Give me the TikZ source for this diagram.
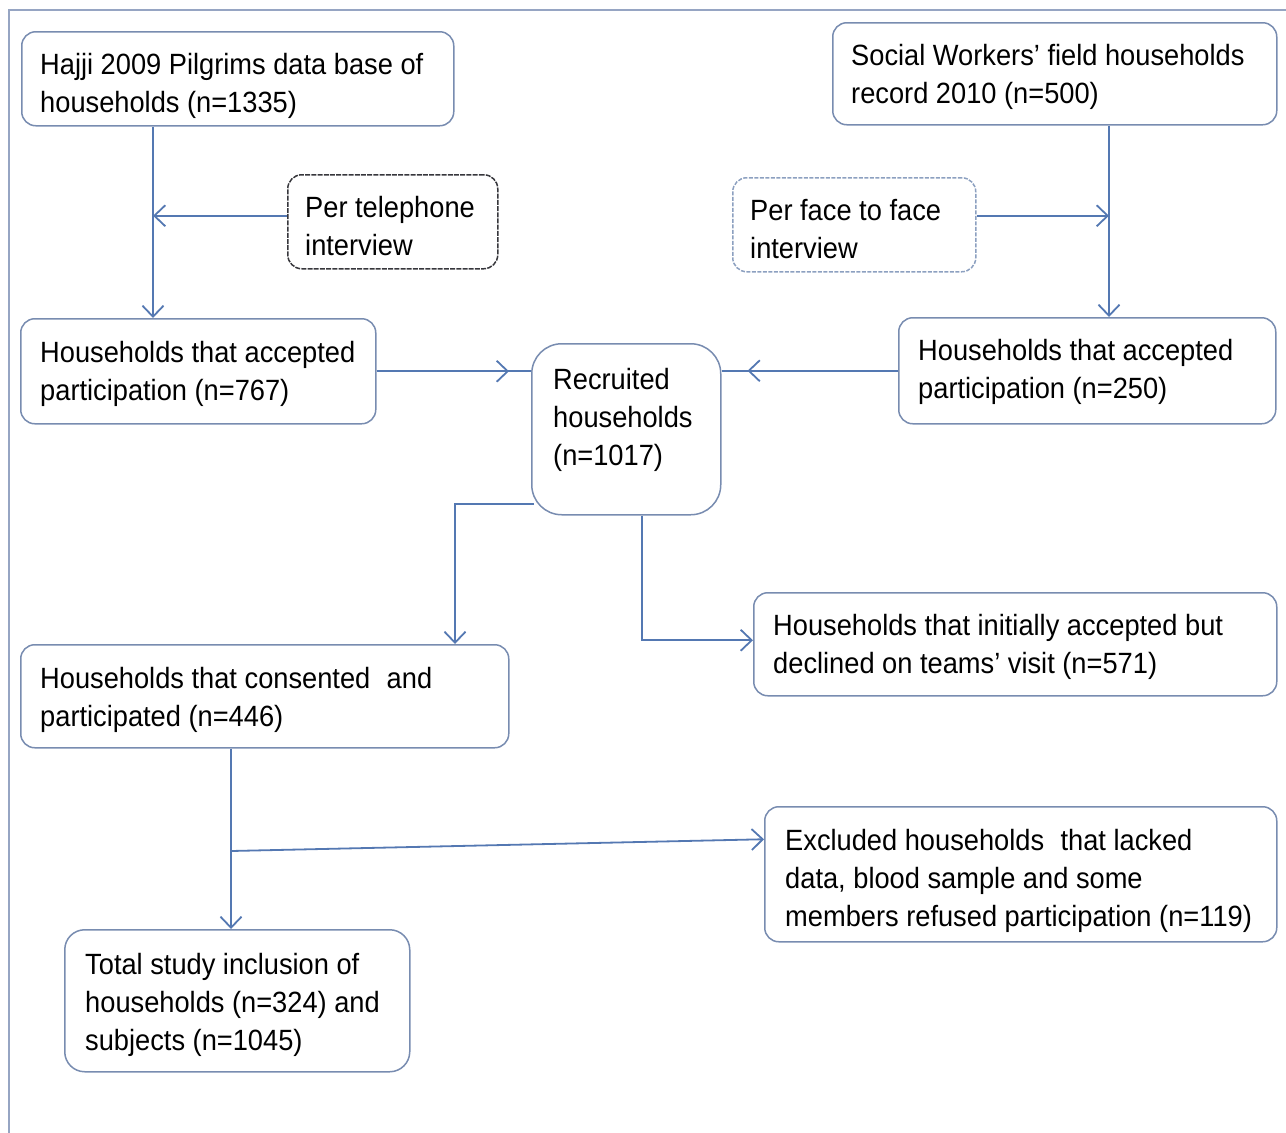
\documentclass[tikz,border=0pt]{standalone}
\usepackage{fontspec}
\setmainfont{Liberation Sans}[FakeStretch=0.93]
\usetikzlibrary{arrows.meta,calc}
\definecolor{lineblue}{RGB}{84,120,178}
\definecolor{boxedge}{RGB}{120,140,176}
\definecolor{framec}{RGB}{150,165,195}
\definecolor{dashdark}{RGB}{55,55,60}
\definecolor{dashblue}{RGB}{140,160,192}
\newcommand{\ml}[1]{\begin{tabular}[t]{@{}l@{}}#1\end{tabular}}
\tikzset{
  box/.style={draw=boxedge, line width=1.5pt, rounded corners=14pt, anchor=north west, inner sep=0pt, fill=white},
  telbox/.style={box, draw=dashdark, dash pattern=on 5pt off 1.2pt},
  facebox/.style={box, draw=dashblue, dash pattern=on 4pt off 1.5pt},
  txt/.style={anchor=base west, inner sep=0pt, font=\fontsize{29.3}{38}\selectfont, text=black},
  conn/.style={draw=lineblue, line width=1.8pt},
  arr/.style={conn, -{Straight Barb[length=11pt,width=21pt,line width=1.8pt]}},
}
\begin{document}
\begin{tikzpicture}[x=1pt,y=-1pt]
\useasboundingbox (0,0) rectangle (1286,1133);
\draw[framec, line width=1.5pt] (1286,10) -- (9,10) -- (9,1133);

% boxes
\node[box, minimum width=432, minimum height=94] (hajji) at (21,31) {};
\node[box, minimum width=444, minimum height=102] (social) at (832,22) {};
\node[telbox, minimum width=210, minimum height=94] (tel) at (287,174) {};
\node[facebox, minimum width=243, minimum height=94] (face) at (732,177) {};
\node[box, minimum width=355, minimum height=105] (hhl) at (20,318) {};
\node[box, rounded corners=30pt, minimum width=189, minimum height=171] (rec) at (531,343) {};
\node[box, minimum width=377, minimum height=106] (hhr) at (898,317) {};
\node[box, minimum width=523, minimum height=103] (decl) at (753,592) {};
\node[box, minimum width=488, minimum height=103] (cons) at (20,644) {};
\node[box, minimum width=512, minimum height=135] (excl) at (764,806) {};
\node[box, rounded corners=20pt, minimum width=345, minimum height=142] (tot) at (64,929) {};

% texts
\node[txt] (thajji) at (40,74) {\ml{Hajji 2009 Pilgrims data base of\\households (n=1335)}};
\node[txt] (tsocial) at (851,65) {\ml{Social Workers’ field households\\record 2010 (n=500)}};
\node[txt] (ttel) at (305,217) {\ml{Per telephone\\interview}};
\node[txt] (tface) at (750,220) {\ml{Per face to face\\interview}};
\node[txt] (thhl) at (40,362) {\ml{Households that accepted\\participation (n=767)}};
\node[txt] (trec) at (553,389) {\ml{Recruited\\households\\(n=1017)}};
\node[txt] (thhr) at (918,360) {\ml{Households that accepted\\participation (n=250)}};
\node[txt] (tdecl) at (773,635) {\ml{Households that initially accepted but\\declined on teams’ visit (n=571)}};
\node[txt] (tcons) at (40,688) {\ml{Households that consented\hspace{0.3em} and\\participated (n=446)}};
\node[txt] (texcl) at (785,850) {\ml{Excluded households\hspace{0.3em} that lacked\\data, blood sample and some\\members refused participation (n=119)}};
\node[txt] (ttot) at (85,974) {\ml{Total study inclusion of\\households (n=324) and\\subjects (n=1045)}};

% connectors
\coordinate (hout) at ($(hajji.south west)+(132,0)$);
\draw[arr] (hout) -- (hout |- hhl.north);
\draw[arr] ($(tel.west)+(0,-6)$) -- ($(tel.west -| hout)+(0,-6)$);

\coordinate (sout) at ($(social.south west)+(277,0)$);
\draw[arr] (sout) -- (sout |- hhr.north);
\draw[arr] ($(face.east)+(0,-9)$) -- ($(face.east -| sout)+(0,-9)$);

\draw[conn] (hhl.east) -- (hhl.east -| rec.west);
\draw[arr] (hhl.east) -- ($(hhl.east -| rec.west)+(-22,0)$);
\draw[conn] (hhr.west) -- (hhr.west -| rec.east);
\draw[arr] (hhr.west) -- ($(hhr.west -| rec.east)+(26,0)$);

\coordinate (cin) at ($(cons.north east)+(-54.5,0)$);
\draw[arr] ($(rec.south west)+(3,-11.5)$) -| (cin);
\draw[arr] ($(rec.south)+(16,0)$) |- ($(decl.west)+(0,-4)$);

\coordinate (cout) at ($(cons.south west)+(211,0)$);
\draw[arr] (cout) -- (cout |- tot.north);
\coordinate (br) at (cout |- 0,851);
\draw[arr] (br) -- ($(excl.west)+(0,-35)$);
\end{tikzpicture}
\end{document}
